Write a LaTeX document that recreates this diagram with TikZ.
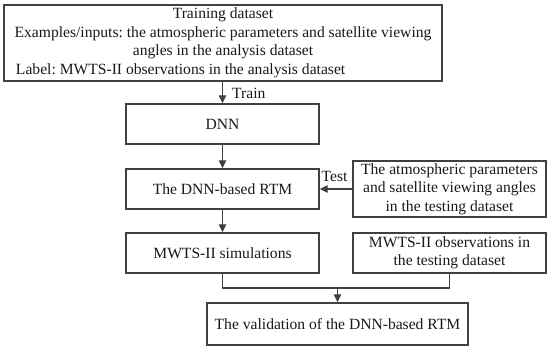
\documentclass[tikz,border=0pt]{standalone}
\usepackage{fontspec}
\setmainfont{Liberation Serif}
\frenchspacing
\usetikzlibrary{arrows.meta,calc}
\begin{document}
\begin{tikzpicture}[x=1pt,y=-1pt,
  box/.style={draw=linec, line width=1.4pt, inner sep=0pt, align=center, text=black!90,
    font=\frenchspacing\fontsize{15.6}{18.5}\selectfont},
  lbl/.style={inner sep=0pt, text=black!90, font=\fontsize{15.6}{18.5}\selectfont},
  conn/.style={draw=linec, line width=1.4pt},
  arr/.style={conn, -{Triangle[length=8pt,width=7.5pt]}}]
\definecolor{linec}{RGB}{64,64,64}
\useasboundingbox (0,0) rectangle (550,350);
\node[box, minimum width=438pt, minimum height=76pt] (top) at (223,43)
  {Training dataset\\
   Examples/inputs: the atmospheric parameters and satellite viewing\\
   angles in the analysis dataset\\
   \makebox[416pt][l]{\hspace{1pt}Label: MWTS-II observations in the analysis dataset}};
\node[box, minimum width=193pt, minimum height=40pt] (dnn) at (222.5,124) {DNN};
\node[box, minimum width=193pt, minimum height=40pt] (rtm) at (222.5,189) {The DNN-based RTM};
\node[box, minimum width=193pt, minimum height=40pt] (sim) at (222.5,253) {MWTS-II simulations};
\node[box, minimum width=193pt, minimum height=56pt] (atm) at (449.5,189)
  {The atmospheric parameters\\and satellite viewing angles\\in the testing dataset};
\node[box, minimum width=193pt, minimum height=40pt] (obs) at (449.5,253)
  {MWTS-II observations in\\the testing dataset};
\node[box, minimum width=261pt, minimum height=42pt] (val) at (337.5,324)
  {The validation of the DNN-based RTM};
\draw[arr] (top.south -| dnn.north) -- (dnn.north);
\node[lbl, anchor=west] (train) at (232,93) {Train};
\draw[arr] (dnn) -- (rtm);
\draw[arr] (atm.west) -- (atm.west -| rtm.east);
\node[lbl, anchor=west] (test) at (321.5,176) {Test};
\draw[arr] (rtm) -- (sim);
\coordinate (join) at (0,288);
\draw[conn] (sim.south) -- (sim.south |- join) -- (obs.south |- join) -- (obs.south);
\draw[arr] (val.north |- join) -- (val.north);
\end{tikzpicture}
\end{document}
